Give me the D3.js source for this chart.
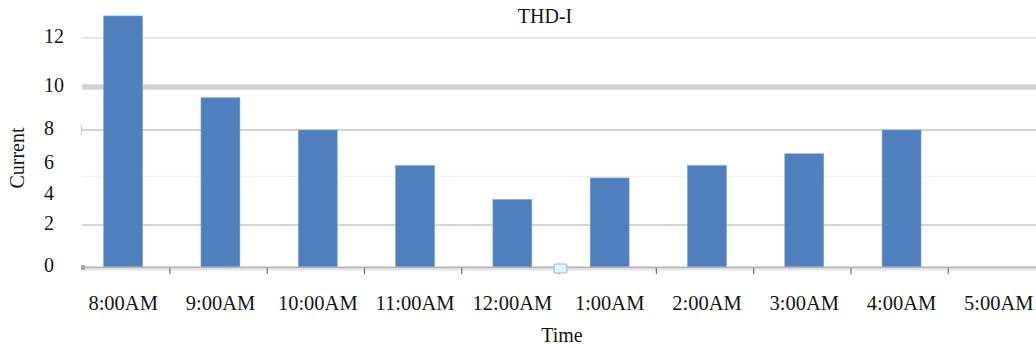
<!DOCTYPE html>
<html>
<head>
<meta charset="utf-8">
<script src="https://cdn.jsdelivr.net/npm/d3@7/dist/d3.min.js"></script>
<style>
  html, body { margin: 0; padding: 0; background: #fff; }
  svg { display: block; }
  text { font-family: "Liberation Serif", "Times New Roman", serif; fill: #141414; }
</style>
</head>
<body>
<svg id="chart" width="1036" height="348"></svg>
<script>
// THD-I current readings per hour
const categories = ["8:00AM", "9:00AM", "10:00AM", "11:00AM", "12:00AM",
                    "1:00AM", "2:00AM", "3:00AM", "4:00AM", "5:00AM"];
const currentValues = [12.9, 9.5, 8, 5.9, 3.7, 5.1, 5.9, 6.6, 8, 0];
const yTickValues = [0, 2, 4, 6, 8, 10, 12];
const gridValues = [2, 5.2, 8, 10, 12];
const chartTitle = "THD-I";
const xTitle = "Time";
const yTitle = "Current";

const W = 1036, H = 348;
const svg = d3.select("#chart");

// Category axis
const x = d3.scaleBand()
  .domain(categories)
  .range([74.5, 1047.5])
  .paddingInner(0.6)
  .paddingOuter(0.3);

// Value axis: the printed scale is uneven, so it is mapped segment by segment
const y = d3.scaleLinear()
  .domain(yTickValues)
  .range([267, 225, 195, 164, 130, 87, 38]);

const plotLeft = 82, plotRight = W;

// Horizontal gridlines
const gridStyle = {
  2:   { stroke: "#c9c9c9", width: 1.6 },
  5.2: { stroke: "#f1f1f1", width: 1.2 },
  8:   { stroke: "#c4c4c4", width: 1.6 },
  10:  { stroke: "#d3d3d3", width: 5.5 },
  12:  { stroke: "#e6e6e6", width: 2 }
};
svg.append("g").attr("class", "grid")
  .selectAll("line")
  .data(gridValues)
  .join("line")
  .attr("x1", plotLeft).attr("x2", plotRight)
  .attr("y1", d => y(d)).attr("y2", d => y(d))
  .attr("stroke", d => gridStyle[d].stroke)
  .attr("stroke-width", d => gridStyle[d].width);

// small mark at the left end of the 8 gridline
svg.append("line")
  .attr("x1", 81.5).attr("x2", 81.5)
  .attr("y1", y(8) - 5).attr("y2", y(8) + 5)
  .attr("stroke", "#c8d4e6").attr("stroke-width", 1.5);

// Bars
svg.append("g").attr("class", "bars")
  .selectAll("rect")
  .data(categories.map((c, i) => ({ c, v: currentValues[i] })).filter(d => d.v > 0))
  .join("rect")
  .attr("x", d => x(d.c))
  .attr("width", x.bandwidth())
  .attr("y", d => y(d.v))
  .attr("height", d => y(0) - y(d.v))
  .attr("fill", "#4f80bd")
  .attr("stroke", "#7aa0d0")
  .attr("stroke-width", 0.6);

// Category axis line and tick marks between categories
const axisY = y(0);
svg.append("line")
  .attr("x1", plotLeft).attr("x2", plotRight)
  .attr("y1", axisY + 0.5).attr("y2", axisY + 0.5)
  .attr("stroke", "#b3b3b3").attr("stroke-width", 2);
svg.append("line")
  .attr("x1", plotLeft).attr("x2", plotRight)
  .attr("y1", axisY + 2.5).attr("y2", axisY + 2.5)
  .attr("stroke", "#e4e4e4").attr("stroke-width", 2);
svg.append("rect")
  .attr("x", plotLeft - 1).attr("y", axisY - 2)
  .attr("width", 4).attr("height", 5)
  .attr("fill", "#a9a9a9");

const step = x.step();
svg.append("g").attr("class", "xticks")
  .selectAll("line")
  .data(categories.slice(1))
  .join("line")
  .attr("x1", d => x(d) - step * 0.32)
  .attr("x2", d => x(d) - step * 0.32)
  .attr("y1", axisY + 1).attr("y2", axisY + 7)
  .attr("stroke", "#707070").attr("stroke-width", 1.2);

// selection handle sitting on the axis
svg.append("rect")
  .attr("x", 554).attr("y", axisY - 3)
  .attr("width", 13).attr("height", 9)
  .attr("rx", 1.5)
  .attr("fill", "#def5fb").attr("stroke", "#aab8c8").attr("stroke-width", 1.2);

// Category labels
svg.append("g").attr("class", "xlabels")
  .selectAll("text")
  .data(categories)
  .join("text")
  .attr("x", d => x(d) + x.bandwidth() / 2)
  .attr("y", 310)
  .attr("text-anchor", "middle")
  .attr("font-size", 20.5)
  .text(d => d);

// Value labels
svg.append("g").attr("class", "ylabels")
  .selectAll("text")
  .data(yTickValues)
  .join("text")
  .attr("x", 44)
  .attr("y", d => y(d) - 2)
  .attr("dy", "0.35em")
  .attr("text-anchor", "start")
  .attr("font-size", 20)
  .text(d => d);

// Titles
svg.append("text")
  .attr("x", 545).attr("y", 23)
  .attr("text-anchor", "middle")
  .attr("font-size", 20)
  .text(chartTitle);

svg.append("text")
  .attr("x", 562).attr("y", 342)
  .attr("text-anchor", "middle")
  .attr("font-size", 20)
  .text(xTitle);

svg.append("text")
  .attr("transform", "translate(24,158) rotate(-90)")
  .attr("text-anchor", "middle")
  .attr("font-size", 20)
  .text(yTitle);
</script>
</body>
</html>
